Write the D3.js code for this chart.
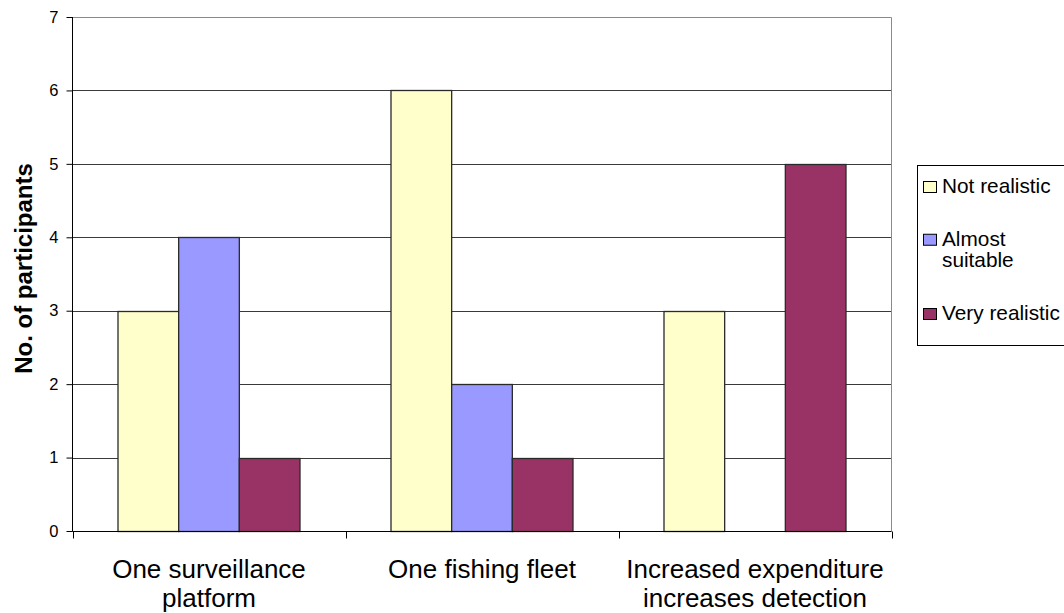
<!DOCTYPE html>
<html>
<head>
<meta charset="utf-8">
<script src="https://cdn.jsdelivr.net/npm/d3@7/dist/d3.min.js"></script>
<style>
  html, body { margin: 0; padding: 0; background: #fff; }
  svg { display: block; font-family: Arial, "Liberation Sans", sans-serif; }
</style>
</head>
<body>
<svg id="chart" width="1064" height="613"></svg>
<script>
// Survey responses: how realistic each scenario assumption was judged
const categories = ["One surveillance platform", "One fishing fleet", "Increased expenditure increases detection"];
const seriesNames = ["Not realistic", "Almost suitable", "Very realistic"];
const notRealistic   = [3, 6, 3];
const almostSuitable = [4, 2, 0];
const veryRealistic  = [1, 1, 5];
const yTicks = [0, 1, 2, 3, 4, 5, 6, 7];
const seriesColors = ["#FFFFCC", "#9999FF", "#993366"];

const seriesValues = [notRealistic, almostSuitable, veryRealistic];

const svg = d3.select("#chart");
const plot = { left: 72.5, right: 891.5, top: 17, bottom: 531 };

const x0 = d3.scaleBand().domain(categories).range([plot.left, plot.right]).paddingInner(0).paddingOuter(0);
const x1 = d3.scaleBand().domain(seriesNames).range([0, x0.bandwidth()]).paddingInner(0).paddingOuter(0.75);
const y = d3.scaleLinear().domain([0, 7]).range([plot.bottom, plot.top]);
const color = d3.scaleOrdinal().domain(seriesNames).range(seriesColors);

// horizontal gridlines
svg.append("g")
  .selectAll("line")
  .data(yTicks.filter(t => t > 0))
  .join("line")
  .attr("x1", plot.left).attr("x2", plot.right)
  .attr("y1", d => Math.round(y(d)) + 0.5).attr("y2", d => Math.round(y(d)) + 0.5)
  .attr("stroke", d => d === 7 ? "#8a8a8a" : "#3a3a3a")
  .attr("stroke-width", 1);

// right border of plot area
svg.append("line")
  .attr("x1", plot.right).attr("x2", plot.right)
  .attr("y1", Math.round(y(7)) + 0.5).attr("y2", plot.bottom + 0.5)
  .attr("stroke", "#8a8a8a");

// bars
const rows = [];
categories.forEach((c, ci) => {
  seriesNames.forEach((s, si) => {
    rows.push({ cat: c, series: s, value: seriesValues[si][ci] });
  });
});

svg.append("g")
  .selectAll("rect")
  .data(rows.filter(d => d.value > 0))
  .join("rect")
  .attr("x", d => x0(d.cat) + x1(d.series))
  .attr("y", d => Math.round(y(d.value)) + 0.5)
  .attr("width", x1.bandwidth())
  .attr("height", d => y(0) - Math.round(y(d.value)))
  .attr("fill", d => color(d.series))
  .attr("stroke", "#2a2a2a")
  .attr("stroke-width", 1.3);

// y axis
const yAxis = svg.append("g")
  .attr("transform", `translate(${plot.left},0)`)
  .call(d3.axisLeft(y).tickValues(yTicks).tickFormat(d3.format("d")).tickSize(6).tickPadding(8));
yAxis.select(".domain").attr("stroke", "#000").attr("d", `M-0,${plot.top}V${plot.bottom + 0.5}`);
yAxis.selectAll(".tick line").attr("stroke", "#000");
yAxis.selectAll(".tick text").attr("font-size", 16.5).attr("fill", "#000")
  .attr("font-family", "Arial, 'Liberation Sans', sans-serif");

// x axis (category boundaries as ticks)
const xAxisG = svg.append("g").attr("transform", `translate(0,${plot.bottom + 0.5})`);
xAxisG.append("line")
  .attr("x1", plot.left).attr("x2", plot.right)
  .attr("stroke", "#000");
const bounds = categories.map(c => x0(c)).concat([x0(categories[categories.length - 1]) + x0.bandwidth()]);
xAxisG.selectAll("line.tick")
  .data(bounds)
  .join("line")
  .attr("class", "tick")
  .attr("x1", d => Math.round(d) + 0.5).attr("x2", d => Math.round(d) + 0.5)
  .attr("y1", 0).attr("y2", 7)
  .attr("stroke", "#000");

// category labels, wrapped to the band width
function wrapLines(textSel, words, maxWidth) {
  const lines = [];
  let current = [];
  const probe = textSel.append("tspan");
  words.forEach(w => {
    const trial = current.concat([w]).join(" ");
    probe.text(trial);
    if (probe.node().getComputedTextLength() > maxWidth && current.length) {
      lines.push(current.join(" "));
      current = [w];
    } else {
      current.push(w);
    }
  });
  if (current.length) lines.push(current.join(" "));
  probe.remove();
  return lines;
}

categories.forEach(c => {
  const t = svg.append("text")
    .attr("x", x0(c) + x0.bandwidth() / 2)
    .attr("text-anchor", "middle")
    .attr("font-size", 26)
    .attr("fill", "#000");
  const lines = wrapLines(t, c.split(" "), x0.bandwidth() - 6);
  lines.forEach((ln, i) => {
    t.append("tspan")
      .attr("x", x0(c) + x0.bandwidth() / 2)
      .attr("y", 578 + i * 28.5)
      .text(ln);
  });
});

// y axis title
svg.append("text")
  .attr("transform", "translate(32,268.5) rotate(-90)")
  .attr("text-anchor", "middle")
  .attr("font-size", 24)
  .attr("font-weight", "bold")
  .attr("fill", "#000")
  .text("No. of participants");

// legend
const legend = svg.append("g");
legend.append("rect")
  .attr("x", 917.5).attr("y", 165.5)
  .attr("width", 160).attr("height", 180)
  .attr("fill", "#fff")
  .attr("stroke", "#000")
  .attr("stroke-width", 1);

seriesNames.forEach((s, i) => {
  const base = 193 + i * 63.5;
  const t = legend.append("text")
    .attr("font-size", 20.8)
    .attr("fill", "#000");
  const lines = wrapLines(t, s.split(" "), 120);
  const offset = (lines.length - 1) * 21.5 / 2;
  lines.forEach((ln, li) => {
    t.append("tspan")
      .attr("x", 942)
      .attr("y", base - offset + li * 21.5)
      .text(ln);
  });
  legend.append("rect")
    .attr("x", 923.5).attr("y", base - offset - 11.5)
    .attr("width", 13).attr("height", 11)
    .attr("fill", color(s))
    .attr("stroke", "#000")
    .attr("stroke-width", 1);
});
</script>
</body>
</html>
